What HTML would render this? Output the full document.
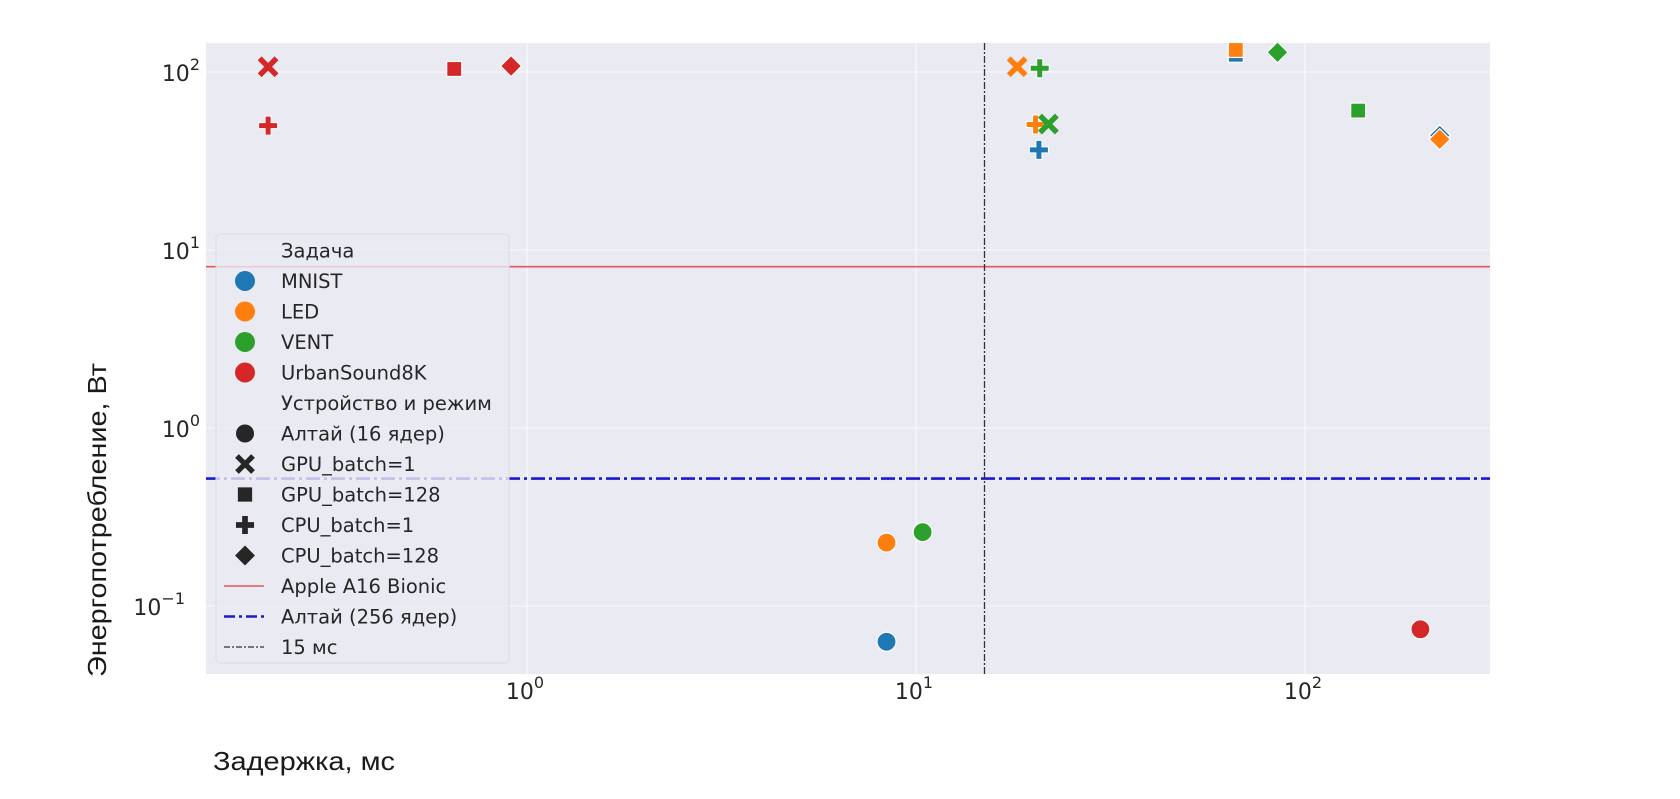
<!DOCTYPE html>
<html><head><meta charset="utf-8"><style>
html,body{margin:0;padding:0;background:#fff;width:1680px;height:799px;overflow:hidden}
svg{display:block}
text{font-family:"DejaVu Sans","Liberation Sans",sans-serif;fill:#262626}
</style></head><body>
<svg id="chart" width="1680" height="799" viewBox="0 0 1680 799">
<rect x="206" y="43" width="1284" height="631" fill="#eaeaf2"/>
<g id="grid"></g>
<g id="reflines"></g>
<g id="marks"></g>
<g id="ticks"></g>
<g id="legend"></g>
<text transform="translate(106,520) rotate(-90)" text-anchor="middle" font-size="26" textLength="314" lengthAdjust="spacingAndGlyphs" style="font-family:'Liberation Sans',sans-serif;fill:#1a1a1a">Энергопотребление, Вт</text>
<text x="213" y="770" font-size="26" textLength="182" lengthAdjust="spacingAndGlyphs" style="font-family:'Liberation Sans',sans-serif;fill:#1a1a1a">Задержка, мс</text>
</svg>
<script>
const xTickExps=[0,1,2];
const yTickExps=[-1,0,1,2];
const tasks=["MNIST","LED","VENT","UrbanSound8K"];
const taskColors=["#1f77b4","#ff7f0e","#2ca02c","#d62728"];
const modes=["Алтай (16 ядер)","GPU_batch=1","GPU_batch=128","CPU_batch=1","CPU_batch=128"];
const modeShapes=["circle","x","square","plus","diamond"];
// points: task index, mode index, latency ms, power W
const pointTask=[3,3,3,3,1,2,0,1,2,1,2,0,2,0,1,1,2,0,3];
const pointMode=[1,3,2,4,1,3,2,2,4,3,1,3,2,4,4,0,0,0,0];
const pointLatency=[0.216,0.216,0.65,0.91,18.2,20.8,66.4,66.4,85,20.3,21.9,20.7,137,222,222,8.4,10.4,8.4,198];
const pointPower=[107,50,104,108,107,105,125,133,129,50.7,51,36.5,60.7,44,41.9,0.227,0.26,0.063,0.074];
const appleLine=[8.06];
const altai256Line=[0.52];
const latencyLimit=[15];

const NS="http://www.w3.org/2000/svg";
const L=206,R=1490,T=43,B=674;
function xs(v){return 527+Math.log10(v)*389;}
function ys(v){return 428+(-Math.log10(v))*178;}
function mk(tag,attrs,parent){const e=document.createElementNS(NS,tag);for(const k in attrs)e.setAttribute(k,attrs[k]);parent.appendChild(e);return e;}
const grid=document.getElementById('grid'),ticks=document.getElementById('ticks');
xTickExps.forEach(e=>{const x=xs(Math.pow(10,e));
 const l=mk('line',{x1:x,x2:x,y1:T,y2:B,stroke:'#fff','stroke-width':1.1,'stroke-opacity':0.8},grid);
 
 
 const t=mk('text',{x:x-2,y:699,'text-anchor':'middle','font-size':22},ticks);
 
 
 t.innerHTML='10<tspan dy="-11" font-size="16">'+e+'</tspan>';});
yTickExps.forEach(e=>{const y=ys(Math.pow(10,e));
 const l=mk('line',{x1:L,x2:R,y1:y,y2:y,stroke:'#fff','stroke-width':1.1,'stroke-opacity':0.8},grid);
 
 
 const t=mk('text',{x:e<0?185:200,y:y+9,'text-anchor':'end','font-size':22},ticks);
 
 
 t.innerHTML='10<tspan dy="-11" font-size="16">'+(e<0?'−1':e)+'</tspan>';});
const ref=document.getElementById('reflines');
let a=mk('line',{x1:L,x2:R,y1:ys(appleLine[0]),y2:ys(appleLine[0]),stroke:'#e15759','stroke-width':1.6},ref);


a=mk('line',{x1:L,x2:R,y1:ys(altai256Line[0]),y2:ys(altai256Line[0]),stroke:'#1a1acc','stroke-width':2.6,'stroke-dasharray':'14 4 3 4'},ref);


a=mk('line',{x1:xs(latencyLimit[0]),x2:xs(latencyLimit[0]),y1:T,y2:B,stroke:'#333','stroke-width':1.3,'stroke-dasharray':'7 2 2 2'},ref);



function shape(kind,cx,cy,color,parent,s,edge){
 s=s||1;let e;const st=edge?'#fff':'none';
 if(kind==='circle')e=mk('circle',{cx:cx,cy:cy,r:9.5*s,fill:color,stroke:st,'stroke-width':1.2},parent);
 else if(kind==='square')e=mk('rect',{x:cx-7.5*s,y:cy-7.5*s,width:15*s,height:15*s,fill:color,stroke:st,'stroke-width':1.2},parent);
 else if(kind==='diamond'){const d=10.5*s;e=mk('polygon',{points:`${cx},${cy-d} ${cx+d},${cy} ${cx},${cy+d} ${cx-d},${cy}`,fill:color,stroke:st,'stroke-width':1.2},parent);}
 else if(kind==='plus'){const a=9.5*s,b=3*s;e=mk('polygon',{points:`${cx-b},${cy-a} ${cx+b},${cy-a} ${cx+b},${cy-b} ${cx+a},${cy-b} ${cx+a},${cy+b} ${cx+b},${cy+b} ${cx+b},${cy+a} ${cx-b},${cy+a} ${cx-b},${cy+b} ${cx-a},${cy+b} ${cx-a},${cy-b} ${cx-b},${cy-b}`,fill:color,stroke:st,'stroke-width':1},parent);}
 else {e=mk('g',{},parent);const d=6.5*s;
  mk('line',{x1:cx-d,y1:cy-d,x2:cx+d,y2:cy+d,stroke:color,'stroke-width':5.5*s,'stroke-linecap':'square'},e);
  mk('line',{x1:cx-d,y1:cy+d,x2:cx+d,y2:cy-d,stroke:color,'stroke-width':5.5*s,'stroke-linecap':'square'},e);}
 return e;}
const marks=document.getElementById('marks');
pointLatency.forEach((v,i)=>{const e=shape(modeShapes[pointMode[i]],xs(v),ys(pointPower[i]),taskColors[pointTask[i]],marks,1,true);
 
 });

const lg=document.getElementById('legend');
const box=mk('rect',{x:216,y:234,width:293,height:429,rx:4,fill:'#eaeaf2','fill-opacity':0.8,stroke:'#dcdce6','stroke-width':1},lg);


const entries=[['t','Задача']].concat(tasks.map((t,i)=>['c',t,taskColors[i]]),[['t','Устройство и режим']],modes.map((m,i)=>['s',m,modeShapes[i]]),[['l1','Apple A16 Bionic'],['l2','Алтай (256 ядер)'],['l3','15 мс']]);
entries.forEach((en,i)=>{const y=250.5+i*30.5;const g=mk('g',{},lg);
 
 
 if(en[0]==='c')shape('circle',245,y,en[2],g,1.05,false);
 if(en[0]==='s')shape(en[2],245,y,'#262626',g,0.95,false);
 if(en[0]==='l1')mk('line',{x1:224,x2:264,y1:y,y2:y,stroke:'#e15759','stroke-width':1.6},g);
 if(en[0]==='l2')mk('line',{x1:224,x2:264,y1:y,y2:y,stroke:'#1a1acc','stroke-width':2.6,'stroke-dasharray':'11 4 3 4'},g);
 if(en[0]==='l3')mk('line',{x1:224,x2:264,y1:y,y2:y,stroke:'#333','stroke-width':1.3,'stroke-dasharray':'6 2 2 2'},g);
 const t=mk('text',{x:281,y:y+7,'font-size':19.5},g);t.textContent=en[1];});
</script>
</body></html>
